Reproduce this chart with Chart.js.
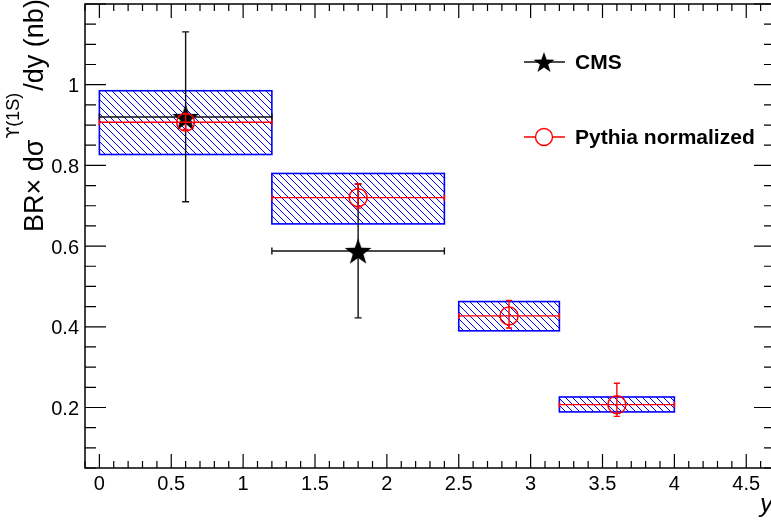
<!DOCTYPE html>
<html>
<head>
<meta charset="utf-8">
<script src="https://cdn.jsdelivr.net/npm/chart.js@4/dist/chart.umd.min.js"></script>
<style>
  html, body { margin:0; padding:0; background:#fff; overflow:hidden; }
  canvas { display:block; }
</style>
</head>
<body>
<canvas id="chart" width="790" height="520"></canvas>
<script>
// ---- data ----
const cmsX     = [0.6, 1.8];
const cmsY     = [0.92, 0.588];
const cmsBinLo = [0.0, 1.2];
const cmsBinHi = [1.2, 2.4];
const cmsErrLo = [0.21, 0.166];
const cmsErrHi = [0.211, 0.166];

const pyX      = [0.6, 1.8, 2.85, 3.6];
const pyY      = [0.907, 0.720, 0.427, 0.207];
const pyBinLo  = [0.0, 1.2, 2.5, 3.2];
const pyBinHi  = [1.2, 2.4, 3.2, 4.0];
const pyErrLo  = [0.018, 0.026, 0.030, 0.029];
const pyErrHi  = [0.020, 0.034, 0.038, 0.053];
const bandLo   = [0.827, 0.655, 0.390, 0.189];
const bandHi   = [0.985, 0.780, 0.4625, 0.226];

const xTicks = [0, 0.5, 1, 1.5, 2, 2.5, 3, 3.5, 4, 4.5];
const yTicks = [0.2, 0.4, 0.6, 0.8, 1];

const FONT = "'Liberation Sans', Arial, Helvetica, sans-serif";

// filled 5-point star used as marker
function starImg(r) {
  const c = document.createElement("canvas");
  const s = Math.ceil(r * 2 + 2);
  c.width = c.height = s;
  const g = c.getContext("2d");
  g.translate(s / 2, s / 2 + r * 0.1);
  g.beginPath();
  for (let i = 0; i < 10; i++) {
    const rr = i % 2 ? r * 0.4 : r;
    const a = -Math.PI / 2 + i * Math.PI / 5;
    g.lineTo(rr * Math.cos(a), rr * Math.sin(a));
  }
  g.closePath();
  g.fillStyle = "#000";
  g.fill();
  return c;
}
const star = starImg(14);
const starSmall = starImg(11);

function errBars(ctx, sx, sy, xs, ys, lo, hi, xl, xh, color, cap) {
  ctx.save();
  ctx.strokeStyle = color;
  ctx.lineWidth = 1.4;
  for (let i = 0; i < xs.length; i++) {
    const px = sx.getPixelForValue(xs[i]);
    const py = sy.getPixelForValue(ys[i]);
    const pt = sy.getPixelForValue(ys[i] + hi[i]);
    const pb = sy.getPixelForValue(ys[i] - lo[i]);
    const pl = sx.getPixelForValue(xl[i]);
    const pr = sx.getPixelForValue(xh[i]);
    ctx.beginPath();
    ctx.moveTo(pl, py); ctx.lineTo(pr, py);
    ctx.moveTo(pl, py - cap); ctx.lineTo(pl, py + cap);
    ctx.moveTo(pr, py - cap); ctx.lineTo(pr, py + cap);
    ctx.moveTo(px, pt); ctx.lineTo(px, pb);
    ctx.moveTo(px - cap, pt); ctx.lineTo(px + cap, pt);
    ctx.moveTo(px - cap, pb); ctx.lineTo(px + cap, pb);
    ctx.stroke();
  }
  ctx.restore();
}

const rootStyle = {
  id: "rootStyle",
  beforeDatasetsDraw(chart) {
    const { ctx, scales: { x, y } } = chart;
    // hatched bands
    for (let i = 0; i < bandLo.length; i++) {
      const x0 = x.getPixelForValue(pyBinLo[i]);
      const x1 = x.getPixelForValue(pyBinHi[i]);
      const y0 = y.getPixelForValue(bandHi[i]);
      const y1 = y.getPixelForValue(bandLo[i]);
      ctx.save();
      ctx.beginPath();
      ctx.rect(x0, y0, x1 - x0, y1 - y0);
      ctx.clip();
      ctx.strokeStyle = "#0000ff";
      ctx.lineWidth = 1;
      ctx.beginPath();
      const sp = 7;
      for (let c = Math.floor((x0 - y1) / sp) * sp; c <= x1 - y0; c += sp) {
        ctx.moveTo(c + y0, y0);
        ctx.lineTo(c + y1, y1);
      }
      ctx.stroke();
      ctx.restore();
      ctx.save();
      ctx.strokeStyle = "#0000ff";
      ctx.lineWidth = 1.6;
      ctx.strokeRect(x0, y0, x1 - x0, y1 - y0);
      ctx.restore();
    }
  },
  beforeDatasetDraw(chart, args) {
    const { ctx, scales: { x, y } } = chart;
    if (args.index === 1) {
      errBars(ctx, x, y, cmsX, cmsY, cmsErrLo, cmsErrHi, cmsBinLo, cmsBinHi, "#111", 3.5);
    } else {
      errBars(ctx, x, y, pyX, pyY, pyErrLo, pyErrHi, pyBinLo, pyBinHi, "#ff0000", 3);
    }
  },
  afterDraw(chart) {
    const { ctx, chartArea: a, scales: { x, y } } = chart;
    ctx.save();
    // frame
    ctx.strokeStyle = "#000";
    ctx.lineWidth = 1.5;
    ctx.strokeRect(a.left, a.top, a.right - a.left, a.bottom - a.top);
    // ticks, drawn inside the frame on all four sides
    ctx.lineWidth = 1.2;
    ctx.beginPath();
    for (let k = -1; k <= 47; k++) {
      const px = x.getPixelForValue(k / 10);
      if (px < a.left || px > a.right) continue;
      const len = k % 5 === 0 ? 14 : 7;
      ctx.moveTo(px, a.bottom); ctx.lineTo(px, a.bottom - len);
      ctx.moveTo(px, a.top); ctx.lineTo(px, a.top + len);
    }
    for (let k = 1; k <= 24; k++) {
      const py = y.getPixelForValue(k * 0.05);
      const len = k % 4 === 0 ? 21 : 11;
      ctx.moveTo(a.left, py); ctx.lineTo(a.left + len, py);
      ctx.moveTo(a.right, py); ctx.lineTo(a.right - len, py);
    }
    ctx.stroke();

    // legend
    ctx.lineWidth = 1.4;
    ctx.strokeStyle = "#111";
    ctx.beginPath(); ctx.moveTo(524, 62); ctx.lineTo(565, 62); ctx.stroke();
    ctx.drawImage(starSmall, 544 - starSmall.width / 2, 62 - starSmall.height / 2);
    ctx.strokeStyle = "#ff0000";
    ctx.beginPath(); ctx.moveTo(524, 137); ctx.lineTo(565, 137); ctx.stroke();
    ctx.beginPath(); ctx.arc(544, 137, 8.5, 0, Math.PI * 2);
    ctx.fillStyle = "#fff"; ctx.fill(); ctx.stroke();
    ctx.fillStyle = "#000";
    ctx.font = "bold 21px " + FONT;
    ctx.textBaseline = "middle";
    ctx.textAlign = "left";
    ctx.fillText("CMS", 575, 63);
    ctx.fillText("Pythia normalized", 575, 138);

    // x title
    ctx.font = "italic 26px " + FONT;
    ctx.textBaseline = "alphabetic";
    ctx.textAlign = "right";
    ctx.fillText("y", 773, 512);

    // y title, rotated, with superscript
    ctx.translate(43, 232);
    ctx.rotate(-Math.PI / 2);
    ctx.textAlign = "left";
    let u = 0;
    ctx.font = "27px " + FONT;
    ctx.fillText("BR\u00d7 d\u03c3", u, 0);
    u += ctx.measureText("BR\u00d7 d\u03c3").width + 1;
    ctx.font = "17px 'DejaVu Sans', sans-serif";
    ctx.fillText("\u03d2", u, -24);
    u += ctx.measureText("\u03d2").width;
    ctx.font = "18px " + FONT;
    ctx.fillText("(1S)", u, -24);
    u += ctx.measureText("(1S)").width;
    ctx.font = "27px " + FONT;
    ctx.fillText("/dy (nb)", u + 2, 0);
    ctx.restore();
  }
};

const ctx = document.getElementById("chart").getContext("2d");
const chart = new Chart(ctx, {
  type: "scatter",
  data: {
    datasets: [
      { label: "Pythia normalized", order: 0,
        data: pyX.map((v, i) => ({ x: v, y: pyY[i] })),
        pointStyle: "circle", pointRadius: 9, pointHoverRadius: 9,
        borderColor: "#ff0000", backgroundColor: "rgba(0,0,0,0)", borderWidth: 1.5 },
      { label: "CMS", order: 1,
        data: cmsX.map((v, i) => ({ x: v, y: cmsY[i] })),
        pointStyle: star, pointRadius: 14, pointHoverRadius: 14 }
    ]
  },
  options: {
    responsive: false,
    animation: false,
    devicePixelRatio: 1,
    layout: { autoPadding: false, padding: { left: 0, top: 4, right: 15, bottom: 0 } },
    plugins: { legend: { display: false }, tooltip: { enabled: false } },
    scales: {
      x: {
        type: "linear", min: -0.1, max: 4.7,
        grid: { display: false, drawTicks: false },
        border: { display: false },
        afterBuildTicks: s => { s.ticks = xTicks.map(v => ({ value: v })); },
        afterFit: s => { s.height = 52; s.paddingLeft = 0; s.paddingRight = 0; },
        ticks: { autoSkip: false, maxRotation: 0, padding: 4, color: "#000",
                 font: { family: FONT, size: 20 }, callback: v => String(v) }
      },
      y: {
        type: "linear", min: 0.05, max: 1.2,
        grid: { display: false, drawTicks: false },
        border: { display: false },
        afterBuildTicks: s => { s.ticks = yTicks.map(v => ({ value: v })); },
        afterFit: s => { s.width = 85; s.paddingTop = 0; s.paddingBottom = 0; },
        ticks: { autoSkip: false, padding: 6, labelOffset: 2, color: "#000",
                 font: { family: FONT, size: 20 }, callback: v => String(v) }
      }
    }
  },
  plugins: [rootStyle]
});
</script>
</body>
</html>
